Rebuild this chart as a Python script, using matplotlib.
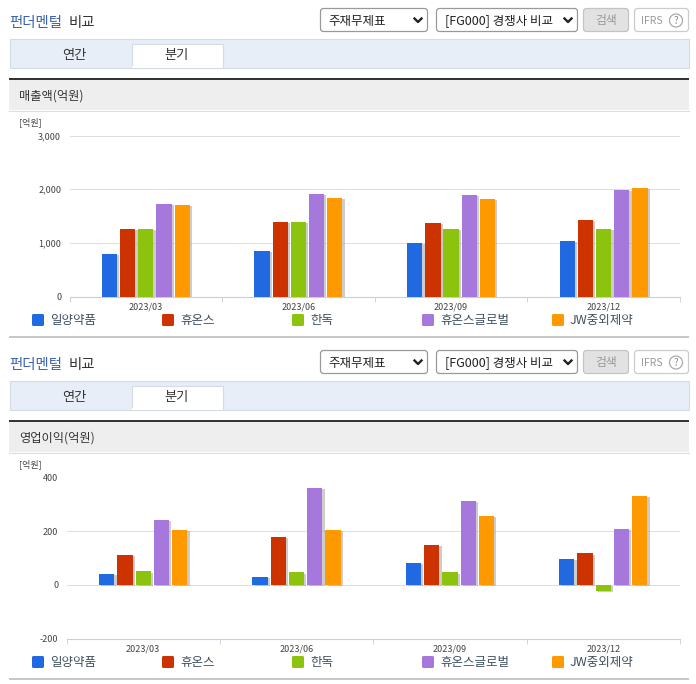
import matplotlib
matplotlib.use("Agg")
import matplotlib.pyplot as plt
import matplotlib.patheffects as pe
from matplotlib.patches import Rectangle, FancyBboxPatch, Circle
import numpy as np

plt.rcParams['font.family'] = ['Noto Sans CJK KR', 'DejaVu Sans']

quarters = ["2023/03", "2023/06", "2023/09", "2023/12"]
companies = ["일양약품", "휴온스", "한독", "휴온스글로벌", "JW중외제약"]
colors = ["#2069e0", "#cc3300", "#8cc30f", "#a778dc", "#ff9900"]

#sales, one list per company
sales_ilyang = [790, 845, 993, 1030]
sales_huons = [1254, 1385, 1366, 1422]
sales_handok = [1254, 1385, 1254, 1254]
sales_global = [1725, 1906, 1888, 1981]
sales_jw = [1707, 1832, 1813, 2018]

#operating profit
profit_ilyang = [42, 28, 80, 95]
profit_huons = [110, 177, 147, 117]
profit_handok = [50, 46, 46, -24]
profit_global = [243, 362, 314, 207]
profit_jw = [203, 203, 258, 330]

sales_ticks = [0, 1000, 2000, 3000]
profit_ticks = [-200, 0, 200, 400]

W, H = 696, 684
TEXT = "#333333"


def box(bg, x0, y0, x1, y1, fc, ec="none", lw=0.0, radius=0):
	if radius:
		p = FancyBboxPatch((x0 + radius, y0 + radius), x1 - x0 - 2 * radius, y1 - y0 - 2 * radius,
			boxstyle="round,pad=%g,rounding_size=%g" % (radius, radius), fc=fc, ec=ec, lw=lw)
	else:
		p = Rectangle((x0, y0), x1 - x0, y1 - y0, fc=fc, ec=ec, lw=lw)
	bg.add_patch(p)


def chevron(bg, x, y):
	bg.plot([x - 3.5, x, x + 3.5], [y - 2, y + 1.5, y - 2], color="#222222", lw=1.7)


#page furniture for one panel, dy moves it down for the second panel
def panel(bg, dy, label):
	bg.text(9, 23 + dy, "펀더멘털", color="#3a62b4", fontsize=10.4, fontweight="medium", va="center")
	bg.text(69, 23 + dy, "비교", color="#333333", fontsize=10.4, fontweight="medium", va="center")

	box(bg, 320.5, 8.5 + dy, 427.5, 31.5 + dy, "white", "#999999", 0.9, 3)
	bg.text(328, 21 + dy, "주재무제표", color="#222222", fontsize=9, va="center")
	chevron(bg, 418, 20.5 + dy)
	box(bg, 436.5, 8.5 + dy, 577.5, 31.5 + dy, "white", "#999999", 0.9, 3)
	bg.text(445, 21 + dy, "[FG000] 경쟁사 비교", color="#222222", fontsize=9, va="center")
	chevron(bg, 568, 20.5 + dy)
	box(bg, 583.5, 8.5 + dy, 628.5, 31.5 + dy, "#e2e2e2", "#c4c4c4", 0.9, 3)
	bg.text(606, 20.5 + dy, "검색", color="#999999", fontsize=8.5, ha="center", va="center")
	box(bg, 634.5, 8.5 + dy, 688.5, 31.5 + dy, "white", "#cccccc", 0.9, 3)
	bg.text(641, 20.5 + dy, "IFRS", color="#999999", fontsize=7.5, va="center")
	bg.add_patch(Circle((676, 20.5 + dy), 6.5, fc="white", ec="#aaaaaa", lw=0.9))
	bg.text(676, 20.5 + dy, "?", color="#888888", fontsize=7, ha="center", va="center")

	box(bg, 9.5, 38.5 + dy, 688.5, 67.5 + dy, "#e8eef8", "#d5dbe5", 0.8)
	box(bg, 131.5, 43.5 + dy, 222.5, 67.5 + dy, "white", "#d5dbe5", 0.8)
	box(bg, 132, 66 + dy, 222, 68.2 + dy, "white")
	bg.text(74, 55 + dy, "연간", color=TEXT, fontsize=9.5, ha="center", va="center")
	bg.text(176.5, 56 + dy, "분기", color=TEXT, fontsize=9.5, ha="center", va="center")

	box(bg, 9, 80 + dy, 689, 110 + dy, "#eeeeee")
	box(bg, 9, 78 + dy, 689, 80 + dy, "#333333")
	bg.plot([9, 689], [110.5 + dy, 110.5 + dy], color="#dddddd", lw=0.8)
	bg.text(19, 96 + dy, label, color=TEXT, fontsize=8.8, va="center")
	bg.text(19, 122.5 + dy, "[억원]", color="#444444", fontsize=6.5, va="center")

	legend_x = [32, 162, 292, 422, 552]
	for x, name, c in zip(legend_x, companies, colors):
		box(bg, x, 314 + dy, x + 12, 326 + dy, c, "none", 0, 1.5)
		bg.text(x + 18, 320.5 + dy, name, color="#3f5060", fontsize=9, va="center")
	box(bg, 9, 335.5 + dy, 689, 337.5 + dy, "#c8c8c8")


def bars(fig, left, right, top, bottom, series, ticks, ymin, ymax):
	ax = fig.add_axes([left / W, 1 - bottom / H, (right - left) / W, (bottom - top) / H])
	ax.patch.set_alpha(0)
	x = np.arange(len(quarters)) + 0.5
	step = 0.119
	for i, values in enumerate(series):
		ax.bar(x + (i - 2) * step, values, 0.1, color=colors[i], zorder=3,
			path_effects=[pe.SimplePatchShadow(offset=(1.6, -0.8), shadow_rgbFace="#aaaaaa", alpha=0.6), pe.Normal()])
	ax.set_xlim(0, len(quarters))
	ax.set_ylim(ymin, ymax)
	ax.set_yticks(ticks)
	ax.set_yticklabels([format(t, ",") for t in ticks], fontsize=6.5, color="#444444")
	ax.set_xticks(np.arange(len(quarters) + 1))
	ax.set_xticklabels([])
	ax.set_xticks(x, minor=True)
	ax.set_xticklabels(quarters, minor=True, fontsize=6.5, color="#444444")
	ax.tick_params(axis="x", which="major", length=3.5, width=0.6, color="#c5cfe0")
	ax.tick_params(axis="x", which="minor", length=0, pad=4)
	ax.tick_params(axis="y", length=0, pad=6)
	ax.grid(axis="y", color="#dddddd", lw=0.7, zorder=0)
	for s in ["top", "left", "right"]:
		ax.spines[s].set_visible(False)
	ax.spines["bottom"].set_color("#c5cfe0")
	ax.spines["bottom"].set_linewidth(0.8)
	return ax


def main():
	fig = plt.figure(figsize=(W / 100, H / 100), dpi=100, facecolor="white")
	bg = fig.add_axes([0, 0, 1, 1])
	bg.set_xlim(0, W)
	bg.set_ylim(H, 0)
	bg.axis("off")

	panel(bg, 0, "매출액(억원)")
	panel(bg, 342, "영업이익(억원)")

	bars(fig, 69.5, 680, 135.5, 296.5, [sales_ilyang, sales_huons, sales_handok, sales_global, sales_jw],
		sales_ticks, 0, 3000)
	bars(fig, 66.5, 680, 477.5, 638.5, [profit_ilyang, profit_huons, profit_handok, profit_global, profit_jw],
		profit_ticks, -200, 400)

	fig.savefig("out.png", dpi=100)


if __name__ == '__main__':
	main()
